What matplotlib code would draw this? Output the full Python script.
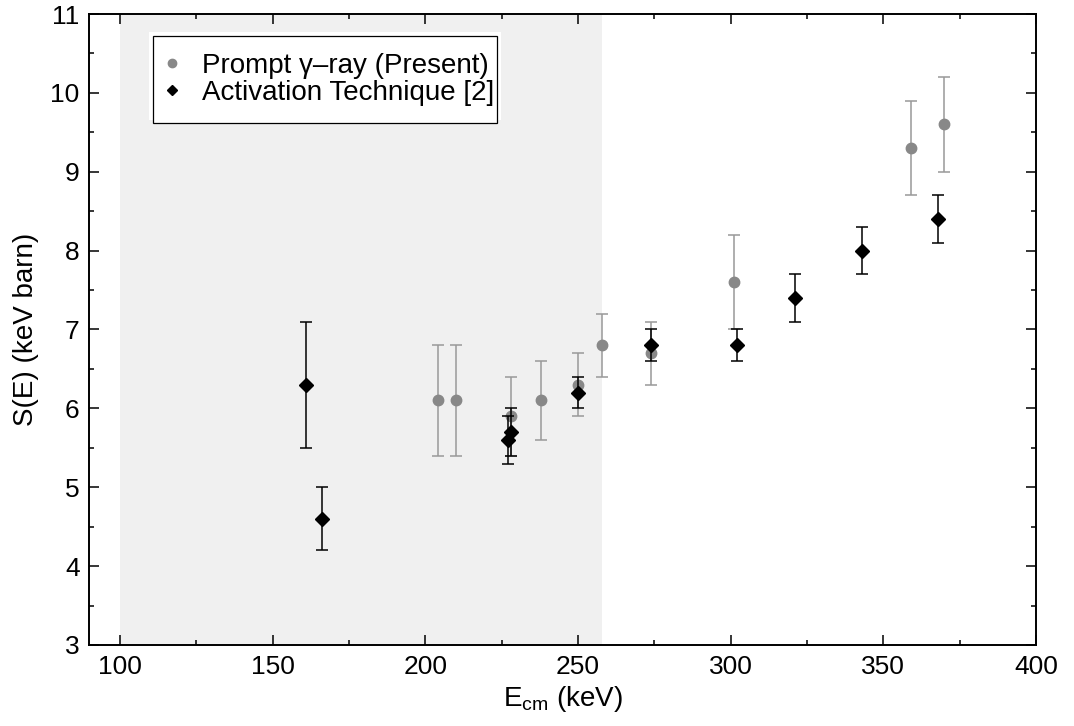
import matplotlib
matplotlib.use("Agg")
import matplotlib.pyplot as plt
from matplotlib.ticker import MultipleLocator
from matplotlib.patches import Rectangle
from matplotlib.lines import Line2D

plt.rcParams['font.family'] = ['Liberation Sans', 'DejaVu Sans']
plt.rcParams['mathtext.fontset'] = 'custom'
plt.rcParams['mathtext.rm'] = 'Liberation Sans'
plt.rcParams['mathtext.it'] = 'Liberation Sans'

# Prompt gamma-ray measurements (present work)
prompt_e = [204, 210, 228, 238, 250, 258, 274, 301, 359, 370]
prompt_s = [6.1, 6.1, 5.9, 6.1, 6.3, 6.8, 6.7, 7.6, 9.3, 9.6]
prompt_err = [0.7, 0.7, 0.5, 0.5, 0.4, 0.4, 0.4, 0.6, 0.6, 0.6]

# Activation technique measurements [2]
act_e = [161, 166, 227, 228, 250, 274, 302, 321, 343, 368]
act_s = [6.3, 4.6, 5.6, 5.7, 6.2, 6.8, 6.8, 7.4, 8.0, 8.4]
act_err = [0.8, 0.4, 0.3, 0.3, 0.2, 0.2, 0.2, 0.3, 0.3, 0.3]

# Shaded energy window
band_lo, band_hi = 100, 258

labels = ['Prompt \u03b3\u2013ray (Present)', 'Activation Technique [2]']

fig = plt.figure(figsize=(10.74, 7.26), dpi=100)
ax = fig.add_axes([0.0833, 0.1116, 0.9646 - 0.0833, 0.9807 - 0.1116])

ax.axvspan(band_lo, band_hi, color='#f0f0f0', zorder=0, lw=0)

ax.errorbar(prompt_e, prompt_s, yerr=prompt_err, fmt='o', color='#888888',
            ms=7.5, mec='#888888', ecolor='#999999', elinewidth=1.1,
            capsize=4.3, capthick=1.1, zorder=3)
ax.errorbar(act_e, act_s, yerr=act_err, fmt='D', color='black',
            ms=7, ecolor='black', elinewidth=1.1,
            capsize=4.3, capthick=1.1, zorder=4)

ax.set_xlim(90, 400)
ax.set_ylim(3, 11)
ax.xaxis.set_major_locator(MultipleLocator(50))
ax.xaxis.set_minor_locator(MultipleLocator(25))
ax.yaxis.set_major_locator(MultipleLocator(1))
ax.yaxis.set_minor_locator(MultipleLocator(0.5))
ax.tick_params(which='both', direction='in', top=True, right=True,
               labelsize=19, width=1.1)
ax.tick_params(which='major', length=7, pad=7)
ax.tick_params(which='minor', length=3.6)
for s in ax.spines.values():
    s.set_linewidth(1.4)

ax.set_xlabel(r'E$_{\mathrm{cm}}$ (keV)', fontsize=20, labelpad=4)
ax.set_ylabel('S(E) (keV barn)', fontsize=20, labelpad=8.5)

# white margin behind the legend box
ax.add_patch(Rectangle((0.0632, 0.832), 0.3716, 0.140, transform=ax.transAxes,
                       facecolor='white', edgecolor='none', zorder=5))
handles = [Line2D([], [], ls='none', marker='o', color='#888888', ms=6),
           Line2D([], [], ls='none', marker='D', color='black', ms=5.5)]
leg = ax.legend(handles, labels, loc='upper left',
                bbox_to_anchor=(0.0671, 0.8384, 0.3634, 0.1267), mode='expand',
                fontsize=20, frameon=True, fancybox=False, framealpha=1,
                edgecolor='black', handletextpad=0.95, handlelength=0.2,
                borderpad=0.6, labelspacing=0.05, borderaxespad=0)
leg.get_frame().set_linewidth(0.9)
leg.set_zorder(6)

fig.savefig('out.png', dpi=100)
